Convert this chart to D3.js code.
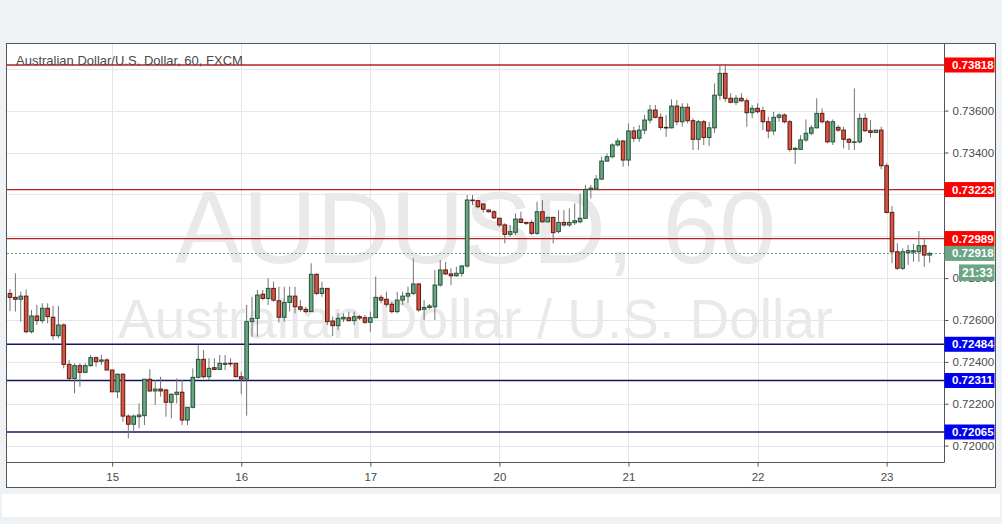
<!DOCTYPE html>
<html><head><meta charset="utf-8">
<script src="https://cdn.jsdelivr.net/npm/d3@7"></script>
<style>
html,body{margin:0;padding:0;background:#eef2f5;}
svg{display:block;}
</style>
</head><body>
<svg id="chart" width="1002" height="524"></svg>
<script>
// ---- data ----
const opens = [.72727,.72708,.72699,.72714,.72544,.72619,.72597,.72656,.72613,.72525,
.72576,.72388,.72321,.72382,.72350,.72382,.72420,.72403,.72409,.72361,
.72257,.72341,.72141,.72102,.72138,.72143,.72317,.72261,.72270,.72266,
.72207,.72245,.72255,.72122,.72183,.72326,.72412,.72329,.72372,.72364,
.72388,.72393,.72393,.72329,.72318,.72592,.72608,.72723,.72703,.72751,
.72692,.72613,.72684,.72714,.72663,.72651,.72640,.72818,.72727,.72751,
.72595,.72573,.72605,.72611,.72597,.72616,.72611,.72589,.72611,.72708,
.72699,.72675,.72640,.72695,.72714,.72727,.72772,.72651,.72660,.72663,
.72767,.72839,.72820,.72811,.72823,.72858,.73173,.73170,.73154,.73125,
.73117,.73086,.73054,.73009,.73019,.73082,.73066,.73066,.73014,.73117,
.73069,.73090,.73022,.73066,.73054,.73065,.73069,.73086,.73224,.73226,
.73273,.73359,.73380,.73436,.73455,.73364,.73503,.73468,.73507,.73555,
.73603,.73568,.73520,.73518,.73622,.73547,.73616,.73552,.73463,.73547,
.73472,.73518,.73674,.73778,.73659,.73640,.73659,.73647,.73590,.73611,
.73600,.73547,.73503,.73568,.73579,.73547,.73415,.73415,.73460,.73492,
.73518,.73587,.73547,.73451,.73520,.73507,.73463,.73449,.73451,.73563,
.73504,.73496,.73507,.73337,.73114,.72926,.72847,.72921,.72924,.72926,
.72955,.72910];
const highs = [.72748,.72823,.72735,.72746,.72648,.72672,.72680,.72680,.72667,.72667,
.72584,.72409,.72393,.72393,.72393,.72433,.72425,.72433,.72417,.72361,
.72345,.72345,.72149,.72149,.72202,.72317,.72364,.72313,.72329,.72266,
.72250,.72321,.72313,.72183,.72369,.72480,.72457,.72417,.72417,.72433,
.72433,.72417,.72393,.72353,.72672,.72711,.72743,.72743,.72799,.72783,
.72759,.72759,.72759,.72759,.72695,.72663,.72871,.72823,.72783,.72751,
.72616,.72632,.72632,.72640,.72640,.72624,.72624,.72640,.72807,.72719,
.72735,.72687,.72735,.72735,.72759,.72895,.72775,.72695,.72676,.72839,
.72886,.72878,.72847,.72854,.72863,.73197,.73197,.73173,.73157,.73129,
.73125,.73088,.73062,.73054,.73109,.73117,.73066,.73077,.73165,.73173,
.73093,.73093,.73125,.73125,.73133,.73157,.73205,.73245,.73245,.73292,
.73380,.73396,.73444,.73468,.73460,.73539,.73523,.73531,.73579,.73627,
.73627,.73587,.73579,.73654,.73651,.73635,.73635,.73563,.73555,.73555,
.73547,.73730,.73818,.73818,.73683,.73674,.73683,.73659,.73627,.73635,
.73619,.73571,.73595,.73587,.73587,.73555,.73425,.73483,.73558,.73531,
.73659,.73611,.73555,.73558,.73531,.73523,.73468,.73706,.73587,.73587,
.73555,.73507,.73523,.73348,.73144,.72966,.72942,.72958,.72963,.73025,
.72990,.72926];
const lows = [.72643,.72640,.72592,.72536,.72536,.72576,.72584,.72584,.72504,.72512,
.72369,.72313,.72250,.72281,.72345,.72377,.72377,.72385,.72361,.72257,
.72226,.72114,.72035,.72066,.72083,.72098,.72257,.72194,.72234,.72138,
.72130,.72202,.72098,.72098,.72178,.72321,.72321,.72313,.72361,.72361,
.72361,.72377,.72329,.72246,.72143,.72520,.72520,.72695,.72672,.72687,
.72587,.72592,.72640,.72632,.72640,.72632,.72640,.72719,.72711,.72576,
.72523,.72552,.72590,.72592,.72576,.72600,.72581,.72544,.72611,.72680,
.72663,.72632,.72632,.72672,.72680,.72719,.72640,.72600,.72652,.72600,
.72759,.72815,.72767,.72807,.72807,.72850,.73149,.73133,.73112,.73114,
.73082,.73045,.72966,.72998,.73006,.73062,.73054,.73006,.73006,.73065,
.73065,.72966,.73014,.73045,.73045,.73054,.73062,.73086,.73181,.73220,
.73268,.73356,.73372,.73428,.73332,.73335,.73451,.73451,.73488,.73539,
.73563,.73507,.73475,.73515,.73531,.73523,.73539,.73412,.73412,.73436,
.73431,.73494,.73651,.73642,.73635,.73627,.73642,.73523,.73563,.73587,
.73507,.73468,.73483,.73547,.73539,.73404,.73345,.73412,.73451,.73483,
.73515,.73539,.73444,.73436,.73499,.73420,.73412,.73412,.73444,.73499,
.73472,.73492,.73320,.73109,.72871,.72839,.72839,.72863,.72878,.72878,
.72854,.72874];
const closes = [.72708,.72699,.72714,.72544,.72619,.72597,.72656,.72616,.72525,.72576,
.72388,.72321,.72382,.72350,.72382,.72420,.72401,.72409,.72361,.72257,
.72341,.72141,.72102,.72141,.72146,.72317,.72261,.72270,.72261,.72207,
.72245,.72255,.72122,.72183,.72326,.72412,.72329,.72369,.72364,.72393,
.72393,.72390,.72329,.72318,.72592,.72608,.72719,.72703,.72751,.72695,
.72613,.72684,.72714,.72663,.72651,.72640,.72818,.72727,.72751,.72592,
.72573,.72608,.72613,.72597,.72616,.72609,.72589,.72611,.72708,.72695,
.72675,.72640,.72695,.72714,.72727,.72772,.72648,.72660,.72667,.72767,
.72839,.72820,.72811,.72823,.72858,.73173,.73170,.73141,.73129,.73117,
.73088,.73054,.73009,.73022,.73082,.73066,.73062,.73014,.73117,.73069,
.73090,.73017,.73066,.73054,.73066,.73074,.73086,.73224,.73230,.73273,
.73359,.73380,.73436,.73455,.73364,.73503,.73468,.73507,.73555,.73603,
.73568,.73520,.73518,.73622,.73547,.73616,.73552,.73463,.73547,.73472,
.73518,.73674,.73778,.73659,.73640,.73659,.73647,.73590,.73611,.73595,
.73547,.73503,.73568,.73579,.73547,.73415,.73420,.73460,.73492,.73518,
.73587,.73547,.73451,.73547,.73507,.73463,.73449,.73451,.73563,.73504,
.73496,.73507,.73337,.73114,.72926,.72847,.72926,.72931,.72931,.72955,
.72910,.72918];

const dayLabels   = ["15","16","17","20","21","22","23"];
const dayStartBar = [19, 43, 67, 91, 115, 139, 163];
const priceTicks  = [0.720,0.722,0.724,0.726,0.728,0.730,0.732,0.734,0.736,0.738];
const resistanceLevels = [0.73818, 0.73223, 0.72989];
const supportLevels    = [0.72484, 0.72311, 0.72065];
const lastPrice = 0.72918;
const countdownText = "21:33";
const titleText = "Australian Dollar/U.S. Dollar, 60, FXCM";
const watermarkMain = "AUDUSD, 60";
const watermarkSub  = "Australian Dollar / U.S. Dollar";

// ---- layout ----
const plot = {left: 7, right: 944, top: 44, bottom: 462};
const frame = {left: 6.5, right: 995.5, top: 43.5, bottom: 487.5};
const FONT = "'Liberation Sans', Arial, sans-serif";
const upFill = "#6ba583", upBorder = "#225437";
const downFill = "#d75442", downBorder = "#5b1a13";
const wickColor = "#737375";

const bars = opens.map((o, i) => ({i, o, h: highs[i], l: lows[i], c: closes[i]}));

const svg = d3.select("#chart");

const x = d3.scaleLinear().domain([0, bars.length - 1]).range([10, 10 + 5.378 * (bars.length - 1)]);
const y = d3.scaleLinear().domain([0.72, 0.73818]).range([445.6, 65]);

// background strips
svg.append("rect").attr("x", 0).attr("y", 0).attr("width", 1002).attr("height", 524).attr("fill", "#eef2f5");
svg.append("rect").attr("x", 2).attr("y", 494).attr("width", 998).attr("height", 23).attr("fill", "#ffffff");
svg.append("rect").attr("x", frame.left).attr("y", frame.top)
  .attr("width", frame.right - frame.left).attr("height", frame.bottom - frame.top)
  .attr("fill", "#ffffff");

svg.append("clipPath").attr("id", "plotclip").append("rect")
  .attr("x", plot.left).attr("y", plot.top)
  .attr("width", plot.right - plot.left).attr("height", plot.bottom - plot.top);

const g = svg.append("g").attr("clip-path", "url(#plotclip)");

// grid
g.selectAll("line.hgrid").data(priceTicks).join("line").attr("class", "hgrid")
  .attr("x1", plot.left).attr("x2", plot.right)
  .attr("y1", d => Math.round(y(d)) + 0.5).attr("y2", d => Math.round(y(d)) + 0.5)
  .attr("stroke", "#e6e6e6").attr("stroke-width", 1);
g.selectAll("line.vgrid").data(dayStartBar).join("line").attr("class", "vgrid")
  .attr("y1", plot.top).attr("y2", plot.bottom)
  .attr("x1", d => Math.round(x(d)) + 0.5).attr("x2", d => Math.round(x(d)) + 0.5)
  .attr("stroke", "#e6e6e6").attr("stroke-width", 1);

// watermark
const cx = (plot.left + plot.right) / 2;
g.append("text").attr("x", cx).attr("y", 263).attr("text-anchor", "middle")
  .attr("font-family", FONT).attr("font-size", 102).attr("fill", "#e9e9e9").text(watermarkMain);
g.append("text").attr("x", cx).attr("y", 338).attr("text-anchor", "middle")
  .attr("font-family", FONT).attr("font-size", 55).attr("fill", "#e9e9e9").text(watermarkSub);

// horizontal levels
g.selectAll("line.res").data(resistanceLevels).join("line").attr("class", "res")
  .attr("x1", plot.left).attr("x2", plot.right)
  .attr("y1", d => y(d)).attr("y2", d => y(d))
  .attr("stroke", "#b52020").attr("stroke-width", 1.3);
g.selectAll("line.sup").data(supportLevels).join("line").attr("class", "sup")
  .attr("x1", plot.left).attr("x2", plot.right)
  .attr("y1", d => y(d)).attr("y2", d => y(d))
  .attr("stroke", "#141466").attr("stroke-width", 1.3);

// current price dotted line
g.append("line").attr("x1", plot.left).attr("x2", plot.right)
  .attr("y1", Math.round(y(lastPrice)) + 0.5).attr("y2", Math.round(y(lastPrice)) + 0.5)
  .attr("stroke", upFill).attr("stroke-width", 1).attr("stroke-dasharray", "2,2");

// candles
const bw = 3.6;
const cg = g.selectAll("g.bar").data(bars).join("g").attr("class", "bar");
cg.append("line")
  .attr("x1", d => x(d.i)).attr("x2", d => x(d.i))
  .attr("y1", d => y(d.h)).attr("y2", d => y(d.l))
  .attr("stroke", wickColor).attr("stroke-width", 1);
cg.append("rect")
  .attr("x", d => x(d.i) - bw / 2).attr("width", bw)
  .attr("y", d => y(Math.max(d.o, d.c)))
  .attr("height", d => Math.max(0.6, Math.abs(y(d.o) - y(d.c))))
  .attr("fill", d => d.c >= d.o ? upFill : downFill)
  .attr("stroke", d => d.c >= d.o ? upBorder : downBorder)
  .attr("stroke-width", 1);

// frame lines
svg.append("rect").attr("x", frame.left).attr("y", frame.top)
  .attr("width", frame.right - frame.left).attr("height", frame.bottom - frame.top)
  .attr("fill", "none").attr("stroke", "#555555").attr("stroke-width", 1);
svg.append("line").attr("x1", plot.right + 0.5).attr("x2", plot.right + 0.5)
  .attr("y1", frame.top).attr("y2", plot.bottom + 0.5).attr("stroke", "#555555");
svg.append("line").attr("x1", frame.left).attr("x2", plot.right + 0.5)
  .attr("y1", plot.bottom + 0.5).attr("y2", plot.bottom + 0.5).attr("stroke", "#555555");

// price axis (labels that sit under a level box are hidden, as in the source)
const boxLevels = resistanceLevels.concat(supportLevels, [lastPrice]);
const yAxis = d3.axisRight(y).tickValues(priceTicks).tickFormat(d3.format(".5f")).tickSize(4).tickPadding(4);
const ya = svg.append("g").attr("transform", `translate(${plot.right + 0.5},0)`).call(yAxis);
ya.select(".domain").remove();
ya.selectAll("line").attr("stroke", "#555");
ya.selectAll("text").attr("font-family", FONT).attr("font-size", 11.5).attr("fill", "#4a4a4a");
ya.selectAll(".tick text").filter(d => boxLevels.some(v => Math.abs(y(v) - y(d)) < 11)).remove();

// time axis
const xAxis = d3.axisBottom(x).tickValues(dayStartBar).tickFormat((d, i) => dayLabels[i]).tickSize(4).tickPadding(6);
const xa = svg.append("g").attr("transform", `translate(0,${plot.bottom + 0.5})`).call(xAxis);
xa.select(".domain").remove();
xa.selectAll("line").attr("stroke", "#555");
xa.selectAll("text").attr("font-family", FONT).attr("font-size", 11.5).attr("fill", "#4a4a4a");

// level labels on price axis
function priceBox(v, color, text, x0) {
  const yy = y(v);
  svg.append("rect").attr("x", x0).attr("y", yy - 7.5).attr("width", 994.5 - x0).attr("height", 15).attr("fill", color);
  svg.append("text").attr("x", 952).attr("y", yy + 4).attr("font-family", FONT)
    .attr("font-size", 11.5).attr("font-weight", "bold").attr("fill", "#ffffff").text(text);
}
const fmt = d3.format(".5f");
resistanceLevels.forEach(v => priceBox(v, "#ff0000", fmt(v), plot.right + 0.5));
supportLevels.forEach(v => priceBox(v, "#0000f0", fmt(v), plot.right + 0.5));
priceBox(lastPrice, upFill, fmt(lastPrice), plot.right + 0.5);
// countdown box
{
  const yy = y(lastPrice) + 19;
  svg.append("rect").attr("x", 959).attr("y", yy - 8).attr("width", 35.5).attr("height", 16.5).attr("fill", upFill);
  svg.append("text").attr("x", 962).attr("y", yy + 4.5).attr("font-family", FONT)
    .attr("font-size", 12).attr("font-weight", "bold").attr("fill", "#ffffff").text(countdownText);
}

// title
svg.append("text").attr("x", 16).attr("y", 65).attr("font-family", FONT).attr("font-size", 13)
  .attr("fill", "#4a4a4a").text(titleText);
</script>
</body></html>
